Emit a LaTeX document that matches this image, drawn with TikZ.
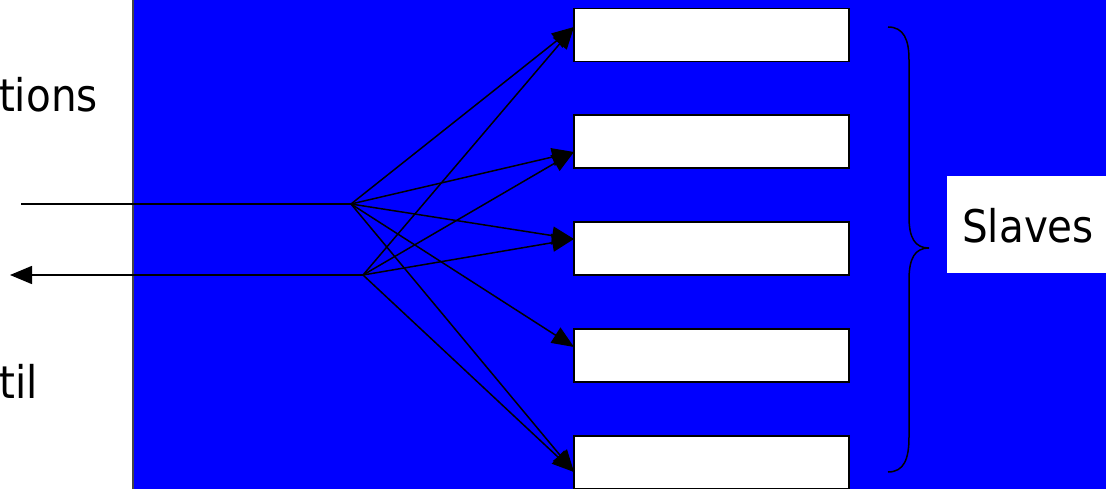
\documentclass[tikz,border=0pt]{standalone}
\usepackage{fontspec}
\setmainfont{DejaVu Sans}[FakeStretch=0.9]
\usetikzlibrary{arrows.meta}
\definecolor{bgblue}{RGB}{0,0,255}
\definecolor{edgegray}{RGB}{70,70,70}
\tikzset{
  slavebox/.style={draw=black, fill=white, line width=1.4pt, minimum width=275pt, minimum height=53pt, inner sep=0pt, outer sep=0pt},
  wire/.style={draw=black, line width=1.5pt},
  arr/.style={wire, -{Triangle[length=22pt,width=18pt]}},
  lbl/.style={font=\fontsize{45}{54}\selectfont, inner sep=0pt},
}
\begin{document}
\begin{tikzpicture}[x=1pt,y=-1pt]
\useasboundingbox (0,0) rectangle (1106,489);
\fill[white] (0,0) rectangle (1106,489);
\fill[bgblue] (133,-5) rectangle (1115,495);
\draw[edgegray, line width=1.2pt] (133,-5) -- (133,495);
% labels
\node[lbl, anchor=base east] (tions) at (98,112) {tions};
\node[lbl, anchor=base east] (til) at (38,398) {til};
% slave boxes
\node[slavebox] (s1) at (711.5,35) {};
\node[slavebox] (s2) at (711.5,141.5) {};
\node[slavebox] (s3) at (711.5,248.5) {};
\node[slavebox] (s4) at (711.5,355.5) {};
\node[slavebox] (s5) at (711.5,462.5) {};
% Slaves label
\node[fill=white, minimum width=170pt, minimum height=97pt, inner sep=0pt, anchor=north west] (sbox) at (947,176) {};
\node[lbl, anchor=base west] (slaves) at (962,243) {Slaves};
% coordinates
\coordinate (in) at (21,204);
\coordinate (h1) at (351,204);
\coordinate (h2) at (363,275);
\coordinate (out) at (10,275);
\coordinate (t1) at (574,27);
\coordinate (t2) at (574,152);
\coordinate (t3) at (574,239);
\coordinate (t4) at (574,347);
\coordinate (t5) at (574,472);
% wires
\draw[wire] (in) -- (h1);
\draw[arr] (h2) -- (out);
\foreach \t in {t1,t2,t3,t4,t5} \draw[arr] (h1) -- (\t);
\foreach \t in {t1,t2,t3,t5} \draw[arr] (h2) -- (\t);
% brace
\draw[wire, line width=1.5pt] (888,27) .. controls (904,27) and (909,40) .. (909,60) -- (909,217)
  .. controls (909,238) and (915,248) .. (929,248)
  .. controls (915,248) and (909,258) .. (909,280) -- (909,437)
  .. controls (909,459) and (904,472) .. (888,472);
\end{tikzpicture}
\end{document}
